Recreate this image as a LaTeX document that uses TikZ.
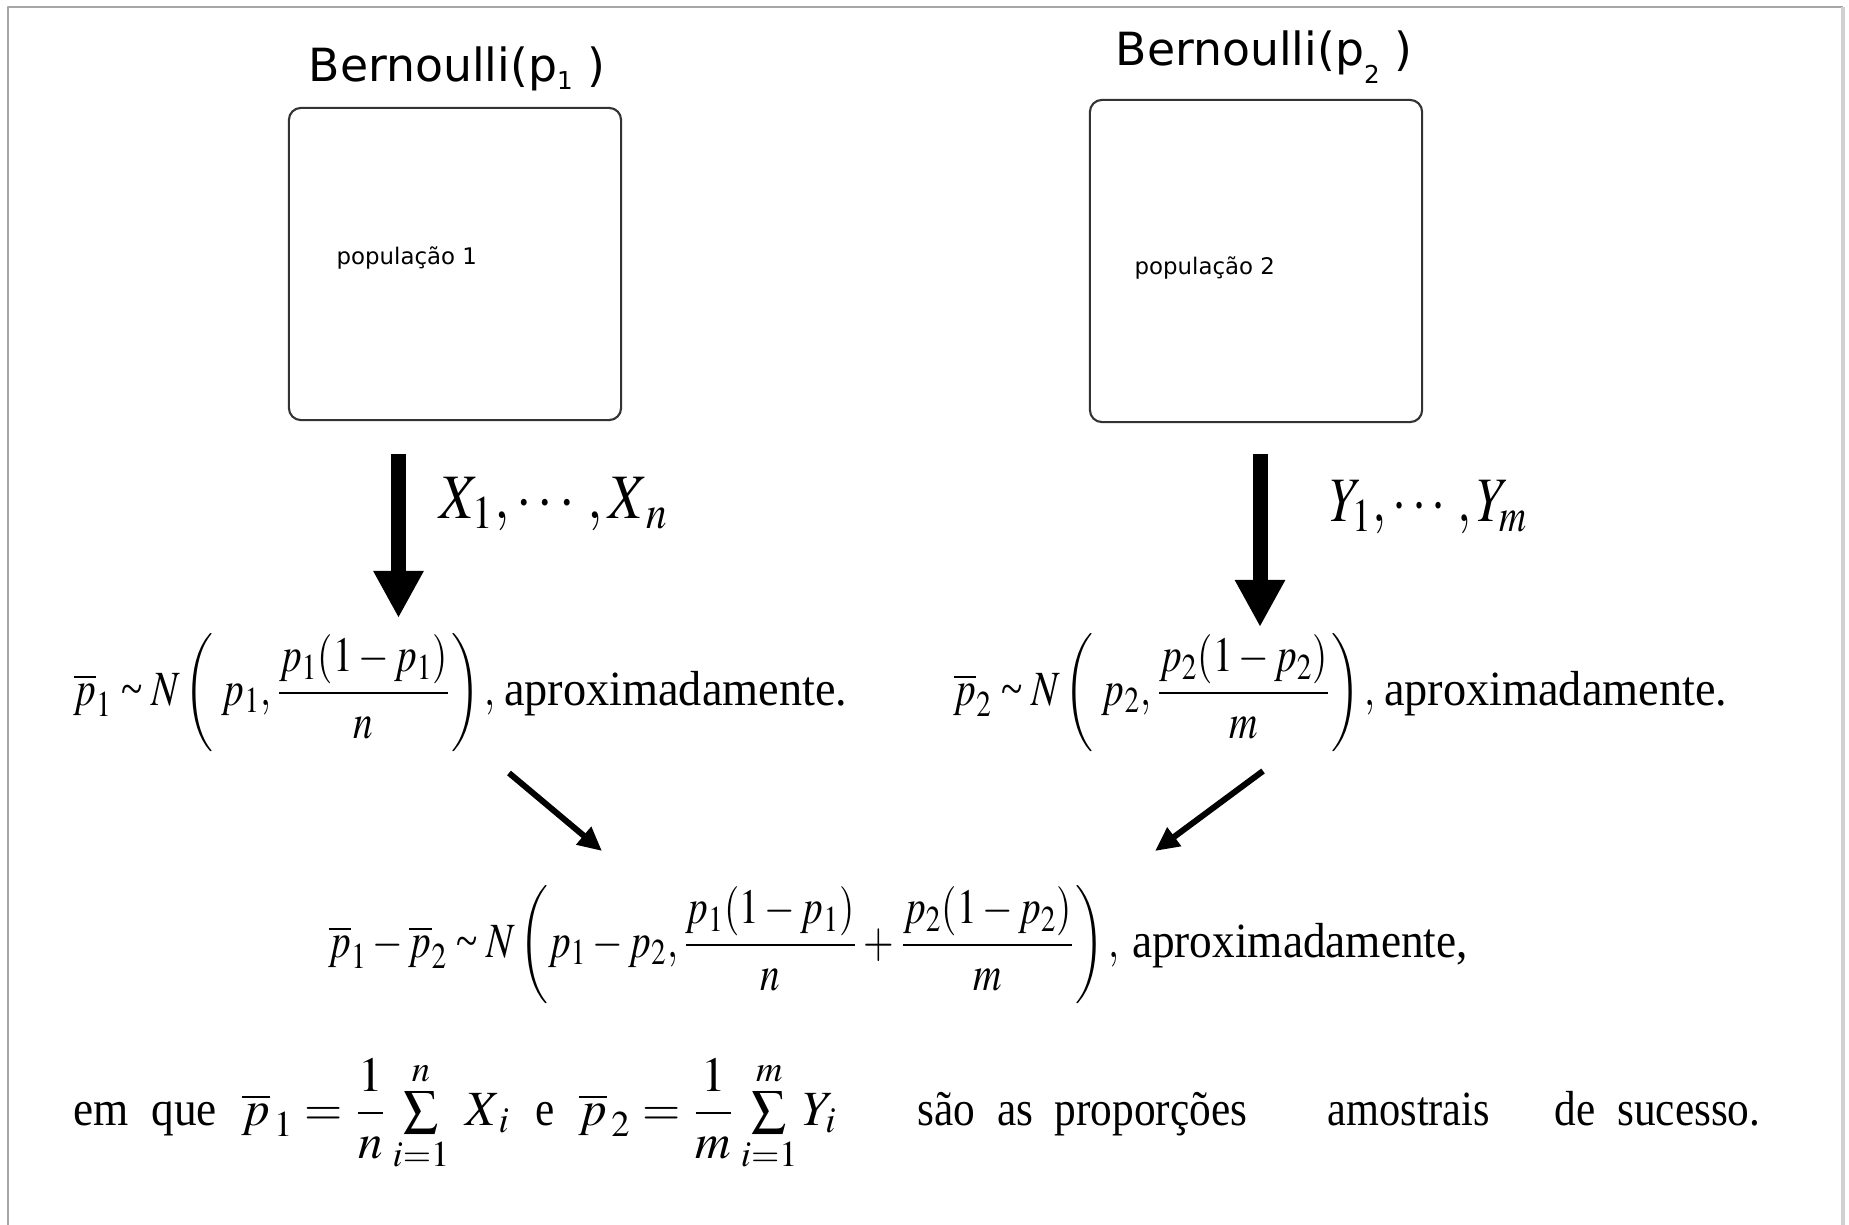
\documentclass[tikz,border=0pt]{standalone}
\usepackage{amsmath}
\usepackage{mathptmx}
\usepackage[no-math]{fontspec}
\usepackage{graphicx}
\setmainfont{Liberation Serif}
\newfontfamily\popfont{DejaVu Sans}
\usetikzlibrary{arrows.meta}

\newcommand{\condm}[2][0.8]{\scalebox{#1}[1]{$#2$}}
\newcommand{\condt}[2][0.88]{\scalebox{#1}[1]{#2}}
\newcommand{\dist}{\mathrel{\text{\textasciitilde}}}

\tikzset{
  popbox/.style={draw=black!80, line width=0.6pt, rounded corners=0.12cm, minimum width=3.32cm, inner sep=0pt},
  bigarrow/.style={line width=0.15cm, -{Triangle[width=0.47cm,length=0.47cm]}},
  smallarrow/.style={line width=0.06cm, -{Triangle[width=0.22cm,length=0.24cm]}},
  eq/.style={inner sep=0pt, anchor=base west, font=\fontsize{14}{16}\selectfont},
  title/.style={inner sep=0pt, anchor=base, font=\popfont\fontsize{13}{15}\selectfont},
  poplabel/.style={inner sep=0pt, anchor=base west, font=\popfont\fontsize{6.5}{8}\selectfont}
}

\begin{document}
\begin{tikzpicture}[x=0.01cm, y=-0.01cm, line join=round]
  \useasboundingbox (0,0) rectangle (1849,1225);
  % frame
  \draw[black!35, line width=0.6pt] (8,1225) -- (8,7) -- (1843,7);
  \draw[black!18, line width=1pt] (1843,7) -- (1843,1225);

  % populations
  \node[title] (bern1) at (457,82) {Bernoulli(p\raisebox{-0.3ex}{\fontsize{7}{8}\selectfont 1} )};
  \node[title] (bern2) at (1264,66) {Bernoulli(p\raisebox{-0.7ex}{\fontsize{7}{8}\selectfont 2} )};
  \node[popbox, minimum height=3.12cm] (pop1) at (455,264) {};
  \node[popbox, minimum height=3.22cm] (pop2) at (1256,261) {};
  \node[poplabel] (txt1) at (336,265) {população 1};
  \node[poplabel] (txt2) at (1134,275) {população 2};

  % samples
  \coordinate (s1) at (398.5,454); \coordinate (e1) at (398.5,618);
  \coordinate (s2) at (1260,454);  \coordinate (e2) at (1260,627);
  \draw[bigarrow] (s1) -- (e1);
  \draw[bigarrow] (s2) -- (e2);
  \node[eq, font=\fontsize{18}{20}\selectfont] (xs) at (439,519) {\condm[0.88]{X_1,\cdots,X_{\,n}}};
  \node[eq, font=\fontsize{18}{20}\selectfont] (ys) at (1329,522) {\condm[0.8]{Y_1,\cdots,Y_m}};

  % marginal distributions
  \node[eq] (dist1) at (73,705) {\condm{\overline{p}_1 \dist N\left(\; p_1,\dfrac{p_1(1-p_1)}{n}\right),}\,\condt[0.94]{aproximadamente.}};
  \node[eq] (dist2) at (953,705) {\condm{\overline{p}_2 \dist N\left(\; p_2,\dfrac{p_2(1-p_2)}{m}\right),}\,\condt[0.94]{aproximadamente.}};

  \coordinate (d1s) at (509,773); \coordinate (d1e) at (602,851);
  \coordinate (d2s) at (1263,771); \coordinate (d2e) at (1155,851);
  \draw[smallarrow] (d1s) -- (d1e);
  \draw[smallarrow] (d2s) -- (d2e);

  % difference
  \node[eq] (diff) at (328,957) {\condm{\overline{p}_1-\overline{p}_2 \dist N\left(p_1-p_2,\dfrac{p_1(1-p_1)}{n}+\dfrac{p_2(1-p_2)}{m}\right),}\ \condt[0.92]{aproximadamente,}};

  \node[eq] (def) at (73,1125) {\condt[0.92]{em\ \ que}\ \ $\overline{p}_{\,1}=\dfrac{1}{n}\sum\limits_{i=1}^{n}\;X_{\,i}$\ \ \condt{e}\ \ $\overline{p}_{\,2}=\dfrac{1}{m}\sum\limits_{i=1}^{m}Y_i$};
  \node[eq] (sao) at (917,1125) {\condt{são\ \ as\ \ proporções}};
  \node[eq] (amostra) at (1327,1125) {\condt[0.86]{amostrais}};
  \node[eq] (sucesso) at (1554,1125) {\condt{de\ \ sucesso.}};
\end{tikzpicture}
\end{document}
